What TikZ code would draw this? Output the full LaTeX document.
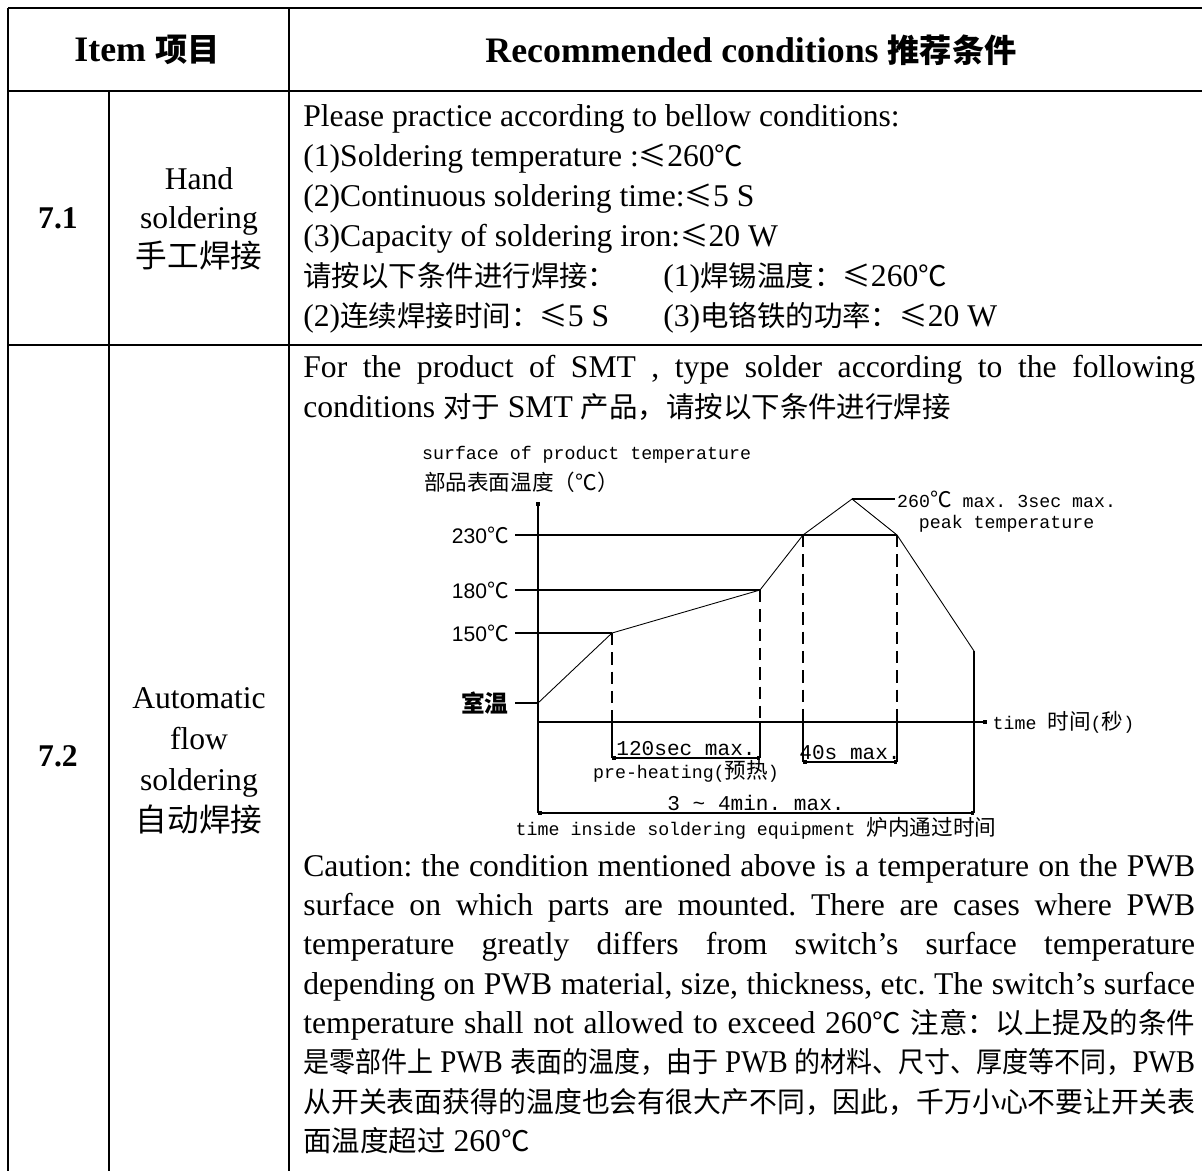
\documentclass[tikz,border=0pt]{standalone}
\usepackage{fontspec}
\usepackage{graphicx}
\setmainfont{Liberation Serif}
\setsansfont{Liberation Sans}
\setmonofont{Liberation Mono}
\newfontfamily\cjk[Scale=0.9]{Noto Sans CJK SC}
\newfontfamily\cjkfull{Noto Sans CJK SC}
\newcommand{\cn}[1]{{\cjk #1}}
\newcommand{\cnf}[1]{{\cjkfull #1}}
\newcommand{\cnc}[1]{{\cjkfull\fontsize{12.3}{14}\selectfont #1}}
\newcommand{\jline}[1]{{\spaceskip=0pt\xspaceskip=0pt\makebox[\linewidth][s]{#1}}}
\newcommand{\fitline}[1]{\resizebox{\linewidth}{\height}{#1}}
\usetikzlibrary{arrows.meta,positioning}

\begin{document}
\begin{tikzpicture}[x=0.02cm,y=-0.02cm,
  rule/.style={line width=1.15pt},
  head/.style={font=\fontsize{20.4}{24}\selectfont\bfseries},
  num/.style={font=\fontsize{18}{22}\selectfont\bfseries},
  item/.style={align=center,inner sep=0pt,font=\fontsize{18}{22.2}\selectfont},
  body/.style={anchor=base west,inner sep=0pt,text width=17.84cm,align=justify,font=\fontsize{18}{22.8}\selectfont\frenchspacing},
  chart/.style={inner sep=1pt,font=\fontsize{10.4}{12}\selectfont\ttfamily},
  big/.style={inner sep=1pt,font=\fontsize{12}{14}\selectfont\ttfamily},
  deg/.style={anchor=east,inner xsep=3.4pt,font=\fontsize{12}{14}\selectfont\sffamily},
  guide/.style={line width=0.6pt},
  profile/.style={line width=0.5pt},
  drop/.style={line width=0.6pt,dash pattern=on 7pt off 4pt},
  dim/.style={line width=0.6pt,arrows={Square[length=2pt,width=2pt]-Square[length=2pt,width=2pt]}},
  axis/.style={line width=0.7pt,arrows={-Square[length=2.4pt,width=2.4pt]}},
]
\useasboundingbox (0,0) rectangle (1202,1171);

% table
\draw[rule] (8,8) -- (1202,8);
\draw[rule] (8,91) -- (1202,91);
\draw[rule] (8,345) -- (1202,345);
\draw[rule] (8,8) -- (8,1171);
\draw[rule] (109,91) -- (109,1171);
\draw[rule] (289,8) -- (289,1171);

\node[head] (hitem) at (147,50) {Item \cn{项目}};
\node[head] (hrec) at (751,50) {Recommended conditions \cn{推荐条件}};

\node[num] (n71) at (58,218) {7.1};
\node[item] (i71) at (199,219) {Hand\\soldering\\\cnf{手工焊接}};
\node[num] (n72) at (58,756) {7.2};
\node[item,font=\fontsize{18}{23.3}\selectfont] (i72) at (199,761) {Automatic\\flow\\soldering\\\cnf{自动焊接}};

\node[body] (t71) at (303,126) {Please practice according to bellow conditions:\\
(1)Soldering temperature :\cn{≤}260\cn{℃}\\
(2)Continuous soldering time:\cn{≤}5 S\\
(3)Capacity of soldering iron:\cn{≤}20 W\\
\makebox[7.2cm][l]{\cn{请按以下条件进行焊接：}}(1)\cn{焊锡温度：≤}260\cn{℃}\\
\makebox[7.2cm][l]{(2)\cn{连续焊接时间：≤}5 S}(3)\cn{电铬铁的功率：≤}20 W};

\node[body] (t72) at (303,377) {\jline{For the product of SMT , type solder according to the following}\\
conditions \cn{对于} SMT \cn{产品，请按以下条件进行焊接}};

% soldering profile
\coordinate (O) at (538,722);
\coordinate (ytop) at (538,502);
\coordinate (xend) at (987,722);
\coordinate (p0) at (538,703);
\coordinate (p1) at (612,633);
\coordinate (p2) at (760,590);
\coordinate (p3) at (803,535);
\coordinate (pk) at (852,499);
\coordinate (p4) at (897,535);
\coordinate (p5) at (974,651);
\coordinate (a1) at (612,758);
\coordinate (a2) at (760,758);
\coordinate (d1) at (803,762);
\coordinate (d2) at (897,762);
\coordinate (c1) at (538,813);
\coordinate (c2) at (974,813);

\node[chart,anchor=west] (ylab) at (420,455) {surface of product temperature};
\node[chart,anchor=west] (ylabcn) at (422,482) {\cnc{部品表面温度（℃）}};
\node[deg] (l230) at (515,535) {230\cnc{℃}};
\node[deg] (l180) at (515,590) {180\cnc{℃}};
\node[deg] (l150) at (515,633) {150\cnc{℃}};
\node[deg,font=\fontsize{13.5}{15}\selectfont\cjkfull\bfseries] (lroom) at (515,703) {室温};

\draw[axis] (c1) -- (ytop);
\draw[axis] (O) -- (xend);
\node[chart,right=2pt of xend] (ltime) {time \cnc{时间}(\cnc{秒})};

\draw[guide] (l230.east) -- (p4);
\draw[guide] (l180.east) -- (p2);
\draw[guide] (l150.east) -- (p1);
\draw[guide] (lroom.east) -- (p0);
\draw[profile] (p0) -- (p1) -- (p2) -- (p3) -- (pk) -- (p4) -- (p5);

\node[chart,anchor=west] (lpeak) at (895,499) {260\cnc{℃} max. 3sec max.};
\node[chart,below=2pt of lpeak] (lpeak2) {peak temperature};
\draw[guide] (pk) -- (lpeak.west);

\draw[drop] (p1) -- (p1 |- O);
\draw[drop] (p2) -- (p2 |- O);
\draw[drop] (p3) -- (p3 |- O);
\draw[drop] (p4) -- (p4 |- O);
\draw[guide] (p1 |- O) -- (a1);
\draw[guide] (p2 |- O) -- (a2);
\draw[guide] (p3 |- O) -- (d1);
\draw[guide] (p4 |- O) -- (d2);
\draw[guide] (p5) -- (c2);

\draw[dim] (a1) -- (a2) coordinate[midway] (am);
\draw[dim] (d1) -- (d2) coordinate[midway] (dm);
\draw[dim] (c1) -- (c2) coordinate[midway] (cm);
\node[big,above=0pt of am] (l120) {120sec max.};
\node[chart,below=0pt of am] (lpre) {pre-heating(\cnc{预热})};
\node[big,above=0pt of dm] (l40) {40s max.};
\node[big,above=0pt of cm] (l34) {3 \textasciitilde{} 4min. max.};
\node[chart,below=1pt of cm] (linside) {time inside soldering equipment \cnc{炉内通过时间}};

\node[body,font=\fontsize{18}{22.4}\selectfont\frenchspacing] (caution) at (303,876) {\jline{Caution: the condition mentioned above is a temperature on the PWB}\\
\jline{surface on which parts are mounted. There are cases where PWB}\\
\jline{temperature greatly differs from switch's surface temperature}\\
\jline{depending on PWB material, size, thickness, etc. The switch's surface}\\
\jline{temperature shall not allowed to exceed 260\cn{℃} \cn{注意：以上提及的条件}}\\
\fitline{\cn{是零部件上} PWB \cn{表面的温度，由于} PWB \cn{的材料、尺寸、厚度等不同，}PWB}\\
\fitline{\cn{从开关表面获得的温度也会有很大产不同，因此，千万小心不要让开关表}}\\
\cn{面温度超过} 260\cn{℃}};
\end{tikzpicture}
\end{document}
